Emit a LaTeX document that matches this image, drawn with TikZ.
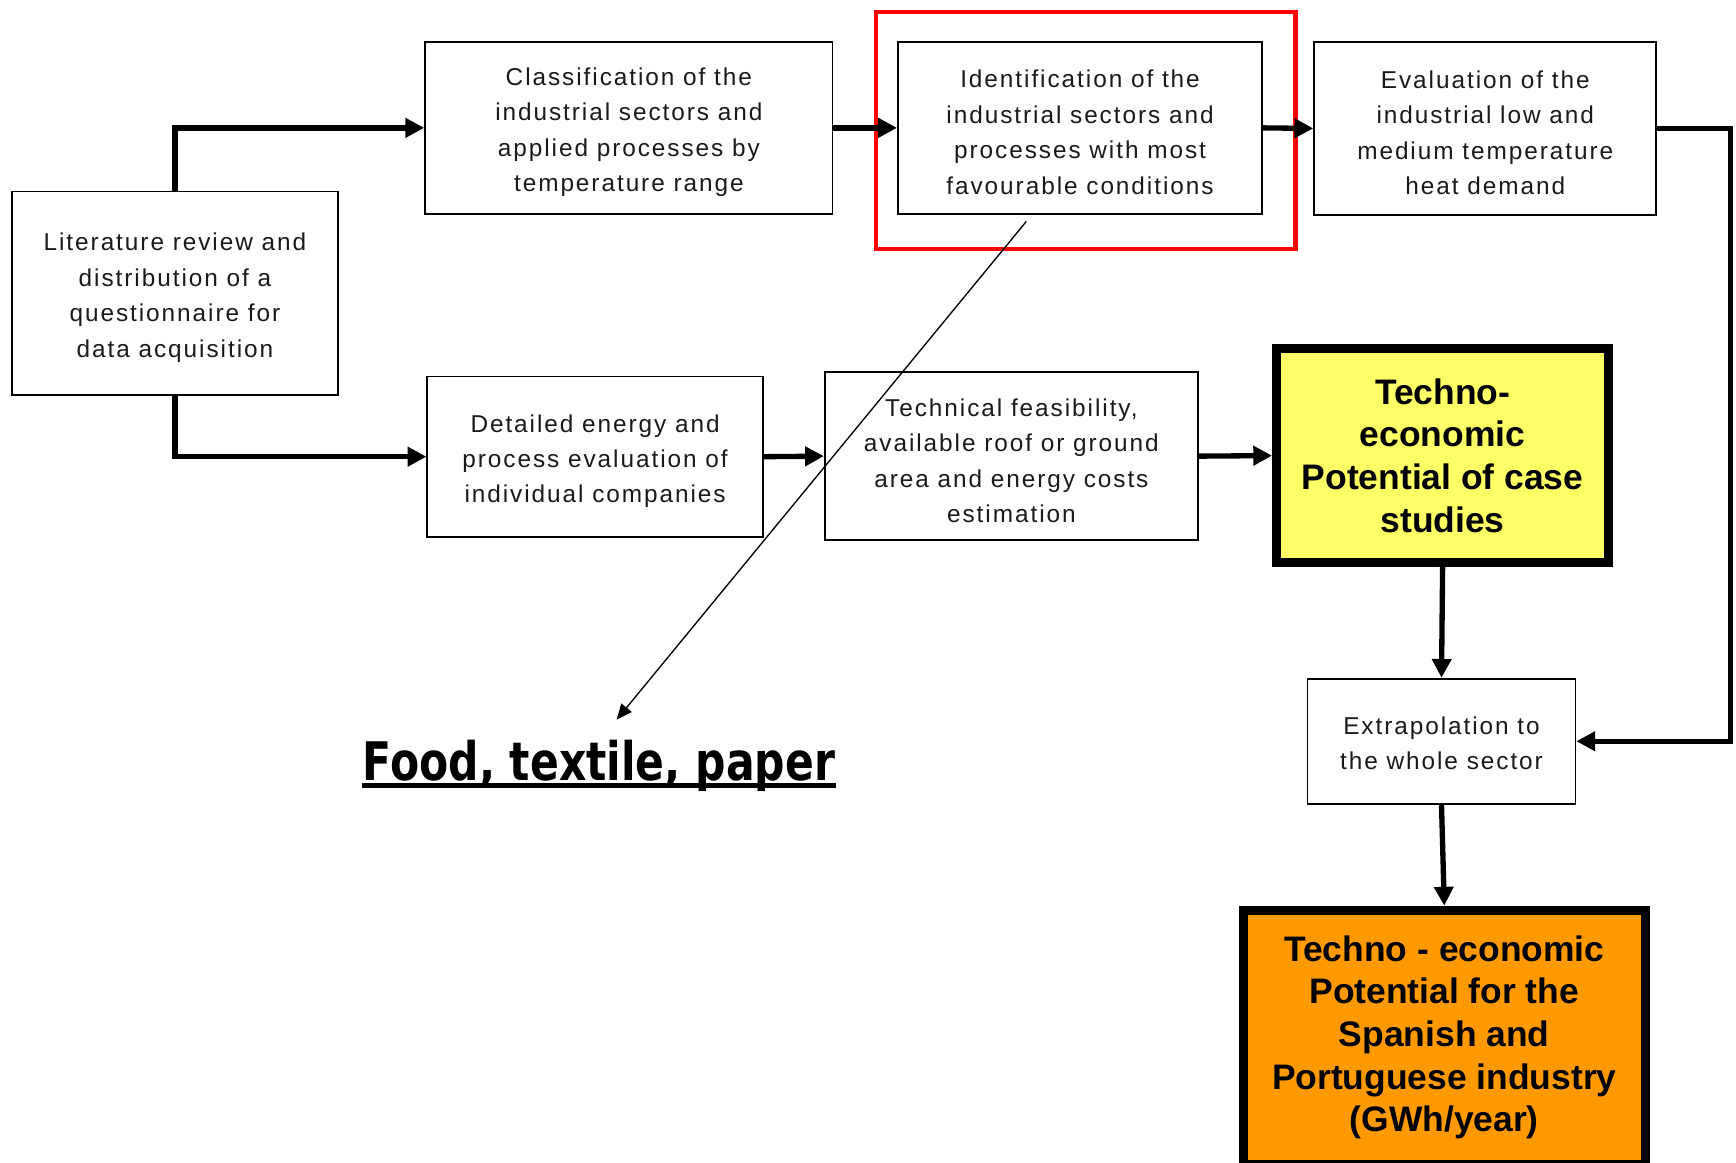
\documentclass[tikz,border=0pt]{standalone}
\usepackage{fontspec}
\setmainfont{Liberation Sans}
\newfontfamily\smallfont[LetterSpace=8]{Liberation Sans}
\newfontfamily\foodfont[FakeStretch=0.8]{DejaVu Sans}
\usetikzlibrary{arrows.meta}
\definecolor{boxyellow}{HTML}{FFFF66}
\definecolor{boxorange}{HTML}{FF9900}
\definecolor{frame}{HTML}{FF0000}
\definecolor{ink}{HTML}{1A1A1A}
\begin{document}
\begin{tikzpicture}[x=0.5pt,y=-0.5pt,
  box/.style={draw=black, line width=0.8pt, fill=white, inner sep=0pt},
  boxlabel/.style={align=center, inner sep=0pt, yshift=-2pt, text=ink,
    font=\smallfont\fontsize{11}{16}\selectfont},
  bigbox/.style={draw=black, line width=4pt, align=center, inner sep=0pt,
    font=\bfseries\fontsize{16}{19.25}\selectfont},
  flow/.style={line width=2.4pt, -{Triangle[length=8.5pt,width=8.5pt]}},
  pointer/.style={line width=0.6pt, -{Triangle[length=7pt,width=6pt]}}]
\useasboundingbox (0,0) rectangle (1568,1050);
\fill[white] (0,0) rectangle (1568,1050);

% red highlight frame
\node[draw=frame, line width=2pt, minimum width=189.5pt, minimum height=107pt, inner sep=0pt] (red) at (980.5,118) {};

\node[box, minimum width=147pt, minimum height=92pt,
  label={[boxlabel]center:{Literature review and\\ distribution of a\\ questionnaire for\\ data acquisition}}] (lit) at (158,265) {};
\node[box, minimum width=184pt, minimum height=77.5pt,
  label={[boxlabel]center:{Classification of the\\ industrial sectors and\\ applied processes by\\ temperature range}}] (cls) at (568,115.5) {};
\node[box, minimum width=164.5pt, minimum height=77.5pt,
  label={[boxlabel]center:{Identification of the\\ industrial sectors and\\ processes with most\\ favourable conditions}}] (idf) at (975.5,115.5) {};
\node[box, minimum width=154.5pt, minimum height=78pt,
  label={[boxlabel]center:{Evaluation of the\\ industrial low and\\ medium temperature\\ heat demand}}] (eva) at (1341.5,116) {};
\node[box, minimum width=151.5pt, minimum height=72.5pt,
  label={[boxlabel]center:{Detailed energy and\\ process evaluation of\\ individual companies}}] (det) at (537.5,412.5) {};
\node[box, minimum width=168.5pt, minimum height=76pt,
  label={[boxlabel]center:{Technical feasibility,\\ available roof or ground\\ area and energy costs\\ estimation}}] (tec) at (913.5,412) {};
\node[bigbox, fill=boxyellow, minimum width=150pt, minimum height=96.5pt] (yel) at (1303,411.5)
  {Techno-\\ economic\\ Potential of case\\ studies};
\node[box, minimum width=121pt, minimum height=56.5pt,
  label={[boxlabel,yshift=1pt]center:{Extrapolation to\\ the whole sector}}] (ext) at (1302,669.5) {};
\node[bigbox, fill=boxorange, minimum width=181.5pt, minimum height=115pt] (ora) at (1304.5,937)
  {Techno - economic\\ Potential for the\\ Spanish and\\ Portuguese industry\\ (GWh/year)};

\node[anchor=base, inner sep=0pt, font=\foodfont\bfseries\fontsize{24}{28}\selectfont] (food) at (541,705)
  {Food, textile, paper};
\draw[line width=2pt] ([yshift=-2.2pt]food.base west) -- ([yshift=-2.2pt]food.base east);

\coordinate (rc) at (1563,116);
\draw[flow] (lit.north) |- (cls.west);
\draw[flow] (lit.south) |- (det.west);
\draw[flow] (cls.east) -- (idf.west);
\draw[flow] (idf.east) -- (eva.west);
\draw[flow] (eva.east) -- (rc) |- (ext.east);
\draw[flow] (det.east) -- (tec.west);
\draw[flow] (tec.east) -- (yel.west);
\draw[flow] (yel.south) -- (ext.north);
\draw[flow] (ext.south) -- (ora.north);

\coordinate (ps) at (927,200);
\coordinate (pe) at (557,650);
\draw[pointer] (ps) -- (pe);
\end{tikzpicture}
\end{document}
